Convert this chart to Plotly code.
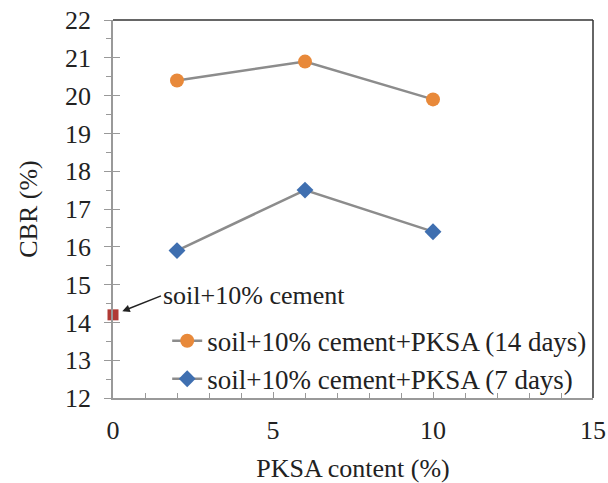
import plotly.graph_objects as go

pksa = [2, 6, 10]
cbr_14d = [20.4, 20.9, 19.9]
cbr_7d = [15.9, 17.5, 16.4]
ref_x = [0]
ref_cbr = [14.2]

FONT = "Liberation Serif"
FS = 26

fig = go.Figure()
fig.add_trace(go.Scatter(
    x=pksa, y=cbr_14d, mode="lines+markers", name="soil+10% cement+PKSA (14 days)",
    line=dict(color="#8c8c8c", width=2.5),
    marker=dict(color="#E8893A", size=14, symbol="circle"),
))
fig.add_trace(go.Scatter(
    x=pksa, y=cbr_7d, mode="lines+markers", name="soil+10% cement+PKSA (7 days)",
    line=dict(color="#8c8c8c", width=2.5),
    marker=dict(color="#3F6FB0", size=13, symbol="diamond"),
))
fig.add_trace(go.Scatter(
    x=ref_x, y=ref_cbr, mode="markers", showlegend=False, cliponaxis=False,
    marker=dict(color="#B03A35", size=11, symbol="square"),
))

fig.add_annotation(
    x=ref_x[0], y=ref_cbr[0], xref="x", yref="y",
    text="soil+10% cement", showarrow=True,
    ax=48, ay=-19, xanchor="left", yanchor="middle",
    arrowhead=2, arrowsize=1, arrowwidth=1.5, arrowcolor="#222", standoff=10,
    font=dict(family=FONT, size=FS, color="#222"),
)

axis_common = dict(
    showgrid=False, zeroline=False, showline=True, linecolor="#999", linewidth=1.5,
    tickfont=dict(family=FONT, size=FS, color="#222"), tickcolor="#999",
    automargin=False, ticklabeloverflow="allow",
)

fig.update_layout(
    width=608, height=483,
    margin=dict(l=113, r=15, t=20, b=85, autoexpand=False),
    plot_bgcolor="white", paper_bgcolor="white",
    font=dict(family=FONT, size=FS, color="#222"),
    xaxis=dict(
        range=[0, 15], tickvals=[0, 5, 10, 15], ticks="inside", ticklen=6,
        ticklabelstandoff=8,
        minor=dict(dtick=1, ticks="inside", ticklen=5, tickcolor="#999"),
        title=dict(text="PKSA content (%)", font=dict(family=FONT, size=FS), standoff=20),
        **axis_common,
    ),
    yaxis=dict(
        range=[12, 22], dtick=1, ticks="outside", ticklen=7,
        ticklabelstandoff=8,
        minor=dict(dtick=0.5, ticks="outside", ticklen=5, tickcolor="#999"),
        title=dict(text="CBR (%)", font=dict(family=FONT, size=FS), standoff=20),
        **axis_common,
    ),
    yaxis2=dict(
        range=[12, 22], dtick=1, overlaying="y", side="left", ticks="inside",
        ticklen=7, tickcolor="#999", showticklabels=False, showgrid=False,
        zeroline=False, showline=False, automargin=False,
    ),
    legend=dict(
        x=0.974, xref="container", y=-0.015, xanchor="right", yanchor="bottom",
        bgcolor="rgba(0,0,0,0)", font=dict(family=FONT, size=27, color="#222"),
        tracegroupgap=0, itemwidth=30,
    ),
    shapes=[
        dict(type="line", xref="paper", yref="paper", x0=0, x1=1, y0=1, y1=1,
             line=dict(color="#333", width=1.5)),
        dict(type="line", xref="paper", yref="paper", x0=1, x1=1, y0=0, y1=1,
             line=dict(color="#333", width=1.5)),
    ],
)
# empty trace so the second y axis draws its inner ticks
fig.add_trace(go.Scatter(x=[None], y=[None], yaxis="y2", showlegend=False, hoverinfo="skip"))

# drop the default page margin so the figure sits at the window corner
fig.write_html(
    "out.html",
    config={"displayModeBar": False},
    post_script="document.body.style.margin='0';",
)
